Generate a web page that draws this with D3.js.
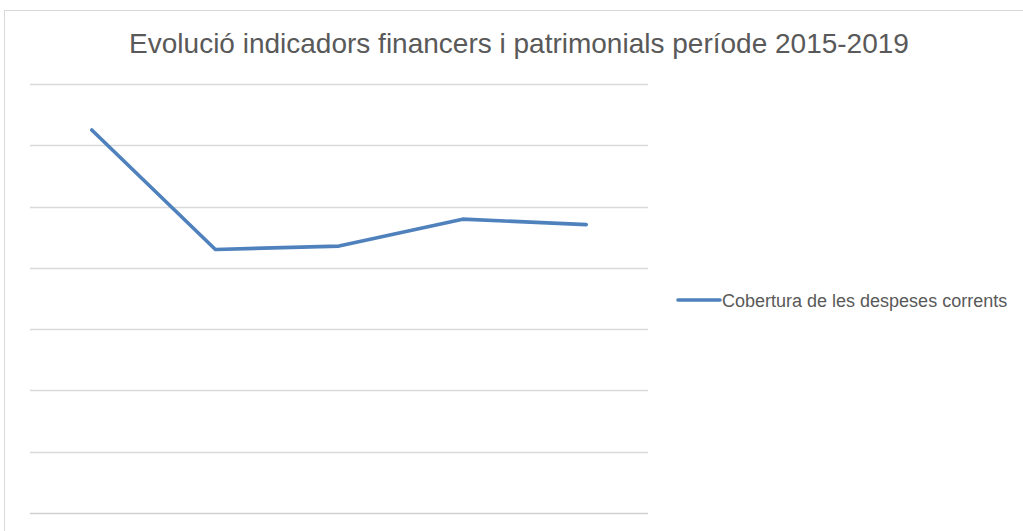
<!DOCTYPE html>
<html>
<head>
<meta charset="utf-8">
<script src="https://cdn.jsdelivr.net/npm/d3@7"></script>
<style>
  body { margin:0; background:#fff; }
  svg { display:block; font-family:"Liberation Sans", Arial, sans-serif; }
</style>
</head>
<body>
<svg id="chart"></svg>
<script>
// data (no axis labels shown, scale 0..1.4 assumed)
var years = ["2015","2016","2017","2018","2019"];
var cobertura = [1.25, 0.86, 0.871, 0.959, 0.941];
var gridTicks = [0, 0.2, 0.4, 0.6, 0.8, 1.0, 1.2, 1.4];
var seriesName = "Cobertura de les despeses corrents";
var titleText = "Evolució indicadors financers i patrimonials període 2015-2019";

var screen = {width:1023, height:531};
var margins = {top:84, left:30};
var graph = {width:618, height:429};

var svg = d3.select("#chart")
    .attr("width",screen.width)
    .attr("height",screen.height);

// chart frame
svg.append("rect")
    .attr("x",4.5)
    .attr("y",10.5)
    .attr("width",1030)
    .attr("height",540)
    .attr("fill","#fff")
    .attr("stroke","#d9d9d9");

svg.append("text")
    .attr("x",519)
    .attr("y",53)
    .attr("text-anchor","middle")
    .attr("font-size",28)
    .attr("fill","#595959")
    .text(titleText);

var xScale = d3.scaleBand()
    .domain(years)
    .range([0,graph.width]);

var yScale = d3.scaleLinear()
    .domain([0,1.4])
    .range([graph.height,0]);

var g = svg.append("g")
    .attr("transform","translate("+margins.left+","+margins.top+")");

//gridlines
g.append("g")
    .selectAll("line")
    .data(gridTicks)
    .enter()
    .append("line")
    .attr("x1",0)
    .attr("x2",graph.width)
    .attr("y1",function(d){ return Math.round(yScale(d))+0.5; })
    .attr("y2",function(d){ return Math.round(yScale(d))+0.5; })
    .attr("stroke",function(d){ return d==0 ? "#d0d0d0" : "#d9d9d9"; })
    .attr("stroke-width",1.3);

var line = d3.line()
    .x(function(d,i){ return xScale(years[i])+xScale.bandwidth()/2; })
    .y(function(d){ return yScale(d); });

g.append("path")
    .datum(cobertura)
    .attr("d",line)
    .attr("fill","none")
    .attr("stroke","#4f81bd")
    .attr("stroke-width",3.6)
    .attr("stroke-linecap","round")
    .attr("stroke-linejoin","round");

// legend
var legend = svg.append("g")
    .attr("transform","translate(678,300)");
legend.append("line")
    .attr("x1",0)
    .attr("x2",42)
    .attr("stroke","#4f81bd")
    .attr("stroke-width",3.6)
    .attr("stroke-linecap","round");
legend.append("text")
    .attr("x",44)
    .attr("y",6.5)
    .attr("font-size",18)
    .attr("fill","#595959")
    .text(seriesName);
</script>
</body>
</html>
